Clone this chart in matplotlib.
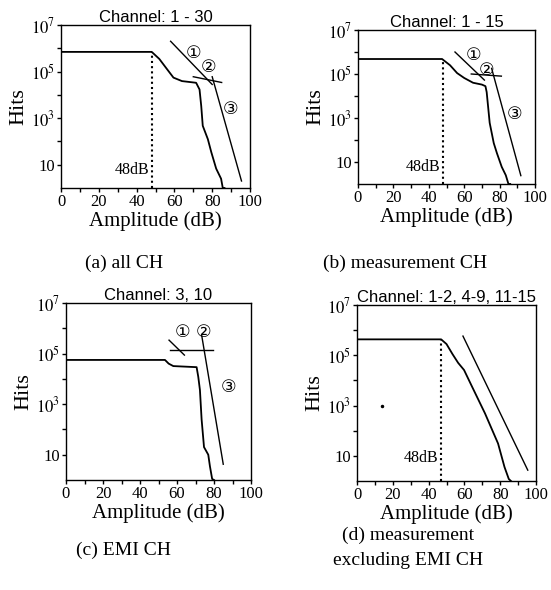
import matplotlib
matplotlib.use('Agg')
import matplotlib.pyplot as plt
import matplotlib.ticker as mticker
import numpy as np

plt.rcParams['font.family'] = ['Liberation Serif', 'DejaVu Serif']
plt.rcParams['mathtext.fontset'] = 'stix'
plt.rcParams['axes.linewidth'] = 1.0

# ---- data ----
# (a) all CH
amp_a = [0, 0, 48, 52, 56, 59.5, 64, 71.5, 73.3, 74.2, 75, 77.7, 79.5, 82.1, 84.7, 85.6, 86.5]
hits_a = [1, 7e5, 7e5, 3.5e5, 1.3e5, 5.5e4, 3.9e4, 3.3e4, 1.7e4, 3.3e3, 470, 125, 35, 6.8, 2.5, 1.0, 1.0]
fit1_a = ([58, 80], [2e6, 2.8e4])
fit2_a = ([70, 85], [6e4, 3.4e4])
fit3_a = ([80, 95.5], [6e4, 2])

# (b) measurement CH
amp_b = [0, 0, 47.5, 52, 56, 60, 65, 70, 72, 72.7, 74.4, 76.7, 78.5, 81.2, 83.5, 85, 86]
hits_b = [1, 4.8e5, 4.8e5, 2.5e5, 1.1e5, 6.6e4, 4e4, 3.3e4, 2.8e4, 1.5e4, 600, 72, 25, 6, 2.5, 1.0, 1.0]
fit1_b = ([54.8, 71.4], [1e6, 5.3e4])
fit2_b = ([64, 81], [1e5, 8e4])
fit3_b = ([75.5, 92], [1.8e5, 2.4])

# (c) EMI CH
amp_c = [0, 0, 53.5, 55.5, 58, 70.6, 71.5, 72.4, 73.3, 74.6, 76.9, 77.8, 79, 80]
hits_c = [1, 5.6e4, 5.6e4, 4e4, 3.2e4, 2.9e4, 1.2e4, 3.6e3, 250, 20, 10, 3.5, 1.1, 1.0]
fit1_c = ([55.7, 64], [3.4e5, 8.7e4])
fit2_c = ([56, 79.5], [1.4e5, 1.4e5])
fit3_c = ([73.3, 85], [5.5e5, 4.2])

# (d) measurement excluding EMI CH
amp_d = [0, 0, 47, 50, 53.4, 56.5, 59.8, 64.3, 71.5, 78.8, 82.4, 84.8, 86]
hits_d = [1, 4.3e5, 4.3e5, 2.8e5, 1.1e5, 5e4, 2.6e4, 5.6e3, 490, 31, 3.6, 1.2, 1.0]
fit1_d = ([59.2, 95.4], [5.8e5, 2.7])
stray_d = ([14], [1e3])

titles = ['Channel: 1 - 30', 'Channel: 1 - 15', 'Channel: 3, 10', 'Channel: 1-2, 4-9, 11-15']
captions = ['(a) all CH', '(b) measurement CH', '(c) EMI CH', '(d) measurement\nexcluding EMI CH']

fig = plt.figure(figsize=(5.51, 5.90), dpi=100)

# axes boxes in pixels: left, top, right, bottom
boxes = [(61, 25, 250, 188), (358, 30, 535, 184), (66, 303, 251, 480), (357, 305, 536, 481)]
W, H = 551, 590


def make_ax(box):
    l, t, r, b = box
    return fig.add_axes([l / W, (H - b) / H, (r - l) / W, (b - t) / H])


def style(ax, title):
    ax.set_yscale('log')
    ax.set_xlim(0, 100)
    ax.set_ylim(1, 1e7)
    ax.set_xticks(np.arange(0, 101, 10))
    ax.set_xticklabels(['0', '', '20', '', '40', '', '60', '', '80', '', '100'])
    ax.yaxis.set_major_locator(mticker.FixedLocator([1e1, 1e2, 1e3, 1e4, 1e5, 1e6, 1e7]))
    ax.set_yticklabels(['10', '', r'$10^3$', '', r'$10^5$', '', r'$10^7$'])
    ax.yaxis.set_minor_locator(mticker.LogLocator(base=10, subs=np.arange(2, 10)))
    ax.yaxis.set_minor_formatter(mticker.NullFormatter())
    ax.tick_params(axis='both', direction='out', length=3, width=1, labelsize=12, pad=1)
    ax.tick_params(axis='y', which='minor', direction='out', length=1.5, width=0.8)
    ax.set_title(title, fontsize=12, family='Liberation Sans', pad=1)
    ax.set_xlabel('Amplitude (dB)', fontsize=15, labelpad=1)
    ax.set_ylabel('Hits', fontsize=16, labelpad=2)


circ = ['DejaVu Sans', 'Noto Sans CJK JP']
cs = 12.5

# (a)
ax = make_ax(boxes[0])
style(ax, titles[0])
ax.plot(amp_a, hits_a, color='black', lw=1.3)
ax.vlines(48, 1, 7e5, colors='black', linestyles=(0, (1, 1.5)), lw=1.5)
for f in (fit1_a, fit2_a, fit3_a):
    ax.plot(f[0], f[1], color='black', lw=1.0)
ax.text(47, 6, '48dB', ha='right', va='center', fontsize=11.5)
ax.text(70, 6e5, '①', family=circ, fontsize=cs, ha='center', va='center')
ax.text(78, 1.6e5, '②', family=circ, fontsize=cs, ha='center', va='center')
ax.text(89.5, 2.5e3, '③', family=circ, fontsize=cs, ha='center', va='center')

# (b)
ax = make_ax(boxes[1])
style(ax, titles[1])
ax.plot(amp_b, hits_b, color='black', lw=1.3)
ax.vlines(47.8, 1, 4.8e5, colors='black', linestyles=(0, (1, 1.5)), lw=1.5)
for f in (fit1_b, fit2_b, fit3_b):
    ax.plot(f[0], f[1], color='black', lw=1.0)
ax.text(46.5, 6, '48dB', ha='right', va='center', fontsize=11.5)
ax.text(65, 7e5, '①', family=circ, fontsize=cs, ha='center', va='center')
ax.text(72.5, 1.5e5, '②', family=circ, fontsize=cs, ha='center', va='center')
ax.text(88.3, 1.6e3, '③', family=circ, fontsize=cs, ha='center', va='center')

# (c)
ax = make_ax(boxes[2])
style(ax, titles[2])
ax.plot(amp_c, hits_c, color='black', lw=1.3)
for f in (fit1_c, fit2_c, fit3_c):
    ax.plot(f[0], f[1], color='black', lw=1.0)
ax.text(63, 7e5, '①', family=circ, fontsize=cs, ha='center', va='center')
ax.text(74.2, 7e5, '②', family=circ, fontsize=cs, ha='center', va='center')
ax.text(87.7, 4.9e3, '③', family=circ, fontsize=cs, ha='center', va='center')

# (d)
ax = make_ax(boxes[3])
style(ax, titles[3])
ax.plot(amp_d, hits_d, color='black', lw=1.3)
ax.vlines(47, 1, 4.3e5, colors='black', linestyles=(0, (1, 1.5)), lw=1.5)
ax.plot(fit1_d[0], fit1_d[1], color='black', lw=1.0)
ax.plot(stray_d[0], stray_d[1], 'o', color='black', ms=1.5)
ax.text(45.5, 8, '48dB', ha='right', va='center', fontsize=11.5)

# captions
fig.text(124 / W, 1 - 263 / H, captions[0], ha='center', va='center', fontsize=14)
fig.text(405 / W, 1 - 263 / H, captions[1], ha='center', va='center', fontsize=14)
fig.text(124 / W, 1 - 550 / H, captions[2], ha='center', va='center', fontsize=14)
fig.text(408 / W, 1 - 548 / H, captions[3], ha='center', va='center', fontsize=14, linespacing=1.6)

fig.savefig('out.png', dpi=100, facecolor='white')
